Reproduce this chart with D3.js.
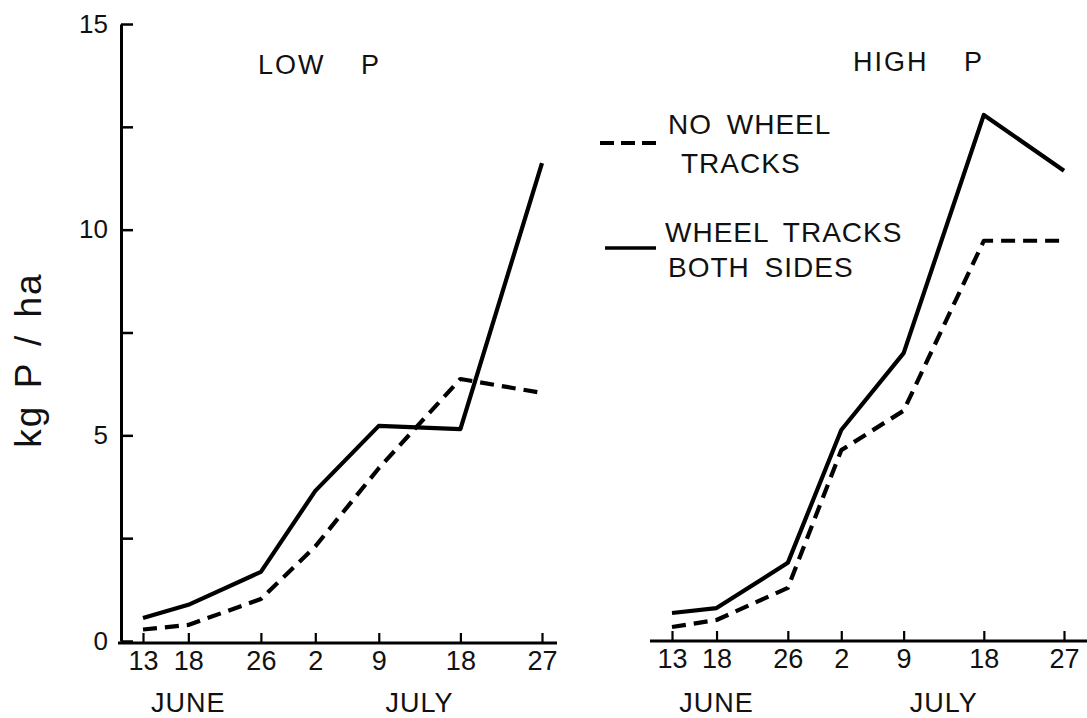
<!DOCTYPE html>
<html>
<head>
<meta charset="utf-8">
<script src="https://cdn.jsdelivr.net/npm/d3@7"></script>
<style>
  html, body { margin: 0; padding: 0; background: #fff; }
  svg { display: block; }
  text { font-family: "Liberation Sans", Arial, sans-serif; fill: #111; }
</style>
</head>
<body>
<svg id="chart" width="1087" height="718"></svg>
<script>
// ---- data ----
const sampleDates = ["06-13", "06-18", "06-26", "07-02", "07-09", "07-18", "07-27"];
const monthLabels = ["JUNE", "JULY"];
const lowNoTracks  = [0.28, 0.39, 1.02, 2.30, 4.20, 6.37, 6.03];
const lowTracks    = [0.56, 0.88, 1.68, 3.65, 5.23, 5.15, 11.62];
const highNoTracks = [0.34, 0.51, 1.29, 4.64, 5.60, 9.73, 9.73];
const highTracks   = [0.68, 0.80, 1.90, 5.13, 7.00, 12.79, 11.43];
const yTicks = [0, 2.5, 5, 7.5, 10, 12.5, 15];
const yLabelTicks = [0, 5, 10, 15];
const panelTitles = ["LOW P", "HIGH P"];
const legendLabels = [["NO WHEEL", "TRACKS"], ["WHEEL TRACKS", "BOTH SIDES"]];
const yTitle = "kg P / ha";

// ---- setup ----
const parse = d3.timeParse("%Y-%m-%d");
const dates = sampleDates.map(s => parse("1980-" + s));
const svg = d3.select("#chart");

const y = d3.scaleLinear().domain([0, 15]).range([641, 24]);
const xLow = d3.scaleTime().domain([dates[0], dates[dates.length - 1]]).range([143, 542]);
const xHigh = d3.scaleTime().domain([dates[0], dates[dates.length - 1]]).range([672, 1064]);

const fmtDay = d3.timeFormat("%-d");

function drawXAxis(x, yPos, extL, extR) {
  const g = svg.append("g").attr("transform", `translate(0,${yPos})`);
  g.append("line")
    .attr("x1", x.range()[0] - extL).attr("x2", x.range()[1] + extR)
    .attr("y1", 0).attr("y2", 0)
    .attr("stroke", "#000").attr("stroke-width", 3);
  const ax = d3.axisBottom(x).tickValues(dates).tickFormat(fmtDay)
    .tickSizeInner(-10).tickSizeOuter(0).tickPadding(8);
  const a = svg.append("g").attr("transform", `translate(0,${yPos})`).call(ax);
  a.select(".domain").remove();
  a.selectAll(".tick line").attr("stroke", "#000").attr("stroke-width", 2.2);
  a.selectAll(".tick text")
    .style("font-size", "27px").style("font-family", "'Liberation Sans', Arial, sans-serif")
    .attr("fill", "#111");
}

drawXAxis(xLow, 643, 25, 15);
drawXAxis(xHigh, 641, 22, 23);

// month labels
function monthText(x, d1, d2, label) {
  svg.append("text")
    .attr("x", (x(d1) + x(d2)) / 2).attr("y", 712)
    .attr("text-anchor", "middle")
    .style("font-size", "27px").style("letter-spacing", "1px")
    .text(label);
}
monthText(xLow, dates[1], dates[1], monthLabels[0]);
monthText(xLow, dates[4], dates[5], monthLabels[1]);
monthText(xHigh, dates[1], dates[1], monthLabels[0]);
monthText(xHigh, dates[4], dates[5], monthLabels[1]);

// y axis
const yAx = d3.axisLeft(y).tickValues(yTicks)
  .tickFormat(d => yLabelTicks.includes(d) ? d3.format("d")(d) : "")
  .tickSizeInner(-12).tickSizeOuter(0).tickPadding(13);
const yg = svg.append("g").attr("transform", "translate(121,0)").call(yAx);
yg.select(".domain").attr("stroke", "#000").attr("stroke-width", 3);
yg.selectAll(".tick line").attr("stroke", "#000").attr("stroke-width", 2.5);
yg.selectAll(".tick text")
  .style("font-size", "26px").style("font-family", "'Liberation Sans', Arial, sans-serif")
  .attr("fill", "#111");

// y title
svg.append("text")
  .attr("transform", "translate(41,360) rotate(-90)")
  .attr("text-anchor", "middle")
  .style("font-size", "37px").style("letter-spacing", "2px").style("word-spacing", "4px")
  .text(yTitle);

// panel titles
svg.append("text").attr("x", 258).attr("y", 74)
  .style("font-size", "27px").style("letter-spacing", "2px").style("word-spacing", "26px")
  .text(panelTitles[0]);
svg.append("text").attr("x", 853).attr("y", 71)
  .style("font-size", "27px").style("letter-spacing", "2px").style("word-spacing", "26px")
  .text(panelTitles[1]);

// lines
const dashPattern = "14,8";
function series(x, vals, dashed) {
  const line = d3.line().x((d, i) => x(dates[i])).y(d => y(d));
  svg.append("path")
    .datum(vals)
    .attr("d", line)
    .attr("fill", "none")
    .attr("stroke", "#000")
    .attr("stroke-width", 4.2)
    .attr("stroke-linejoin", "round")
    .attr("stroke-dasharray", dashed ? dashPattern : null);
}
series(xLow, lowNoTracks, true);
series(xLow, lowTracks, false);
series(xHigh, highNoTracks, true);
series(xHigh, highTracks, false);

// legend
const leg = svg.append("g");
leg.append("line").attr("x1", 600).attr("x2", 657).attr("y1", 143).attr("y2", 143)
  .attr("stroke", "#000").attr("stroke-width", 4).attr("stroke-dasharray", "14,7");
leg.append("line").attr("x1", 605).attr("x2", 656).attr("y1", 248).attr("y2", 248)
  .attr("stroke", "#000").attr("stroke-width", 3.5);
const legPos = [[[668, 134], [681, 173]], [[665, 242], [668, 277]]];
legendLabels.forEach((lines, i) => {
  lines.forEach((t, j) => {
    leg.append("text")
      .attr("x", legPos[i][j][0]).attr("y", legPos[i][j][1])
      .style("font-size", "28px").style("letter-spacing", "1px").style("word-spacing", "6px")
      .text(t);
  });
});
</script>
</body>
</html>
